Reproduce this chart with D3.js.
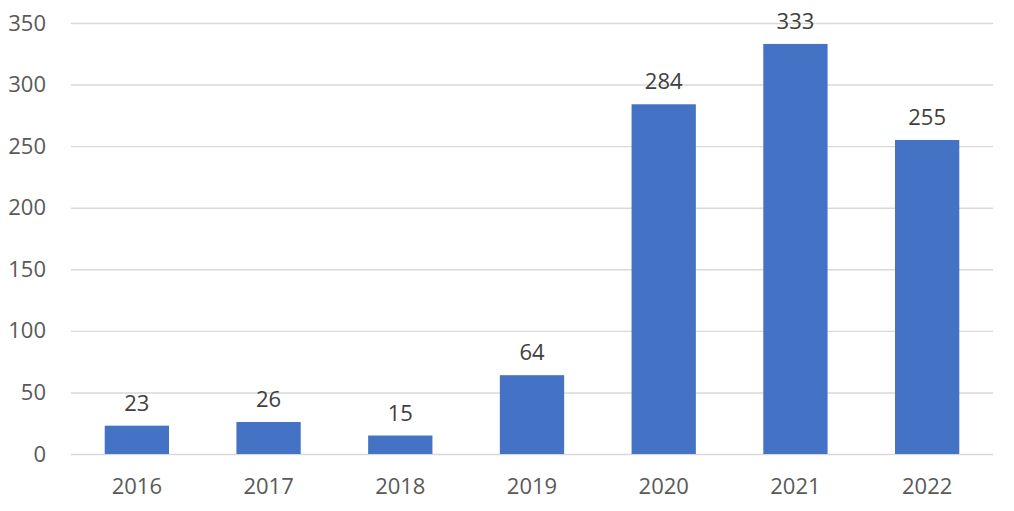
<!DOCTYPE html>
<html><head><meta charset="utf-8">
<script src="https://cdn.jsdelivr.net/npm/d3@7"></script>
<style>html,body{margin:0;padding:0;background:#fff;}</style>
</head><body>
<svg id="chart" width="1014" height="511"></svg>
<script>
const categories = ["2016","2017","2018","2019","2020","2021","2022"];
const values = [23, 26, 15, 64, 284, 333, 255];
const yTicks = [0, 50, 100, 150, 200, 250, 300, 350];

const svg = d3.select("#chart");
const mLeft = 71, mRight = 993, mTop = 23, mBottom = 454;
const font = "'Open Sans', sans-serif";

const x = d3.scaleBand().domain(categories).range([mLeft, mRight]).paddingInner(0.512).paddingOuter(0.256);
const y = d3.scaleLinear().domain([0, 350]).range([mBottom, mTop]);

const yAxis = svg.append("g").attr("transform", `translate(${mLeft},0)`)
  .call(d3.axisLeft(y).tickValues(yTicks).tickSize(-(mRight-mLeft)).tickPadding(25));
yAxis.select(".domain").remove();
yAxis.selectAll(".tick line").attr("stroke", "#d9d9d9").attr("stroke-width", 1.4);
yAxis.selectAll(".tick text").attr("fill", "#595959").style("font-family", font).style("font-size", "22px");

svg.append("g").selectAll("rect").data(values).join("rect")
  .attr("x", (d,i) => x(categories[i]))
  .attr("width", x.bandwidth())
  .attr("y", d => y(d))
  .attr("height", d => y(0) - y(d))
  .attr("fill", "#4472C4");

svg.append("g").selectAll("text").data(values).join("text")
  .attr("x", (d,i) => x(categories[i]) + x.bandwidth()/2)
  .attr("y", d => y(d) - 15)
  .attr("text-anchor", "middle")
  .attr("fill", "#404040")
  .style("font-family", font).style("font-size", "22px")
  .text(d => d);

const xAxis = svg.append("g").attr("transform", `translate(0,${mBottom})`)
  .call(d3.axisBottom(x).tickSize(0).tickPadding(24));
xAxis.select(".domain").remove();
xAxis.selectAll(".tick text").attr("fill", "#595959").style("font-family", font).style("font-size", "22px");
</script>
</body></html>
